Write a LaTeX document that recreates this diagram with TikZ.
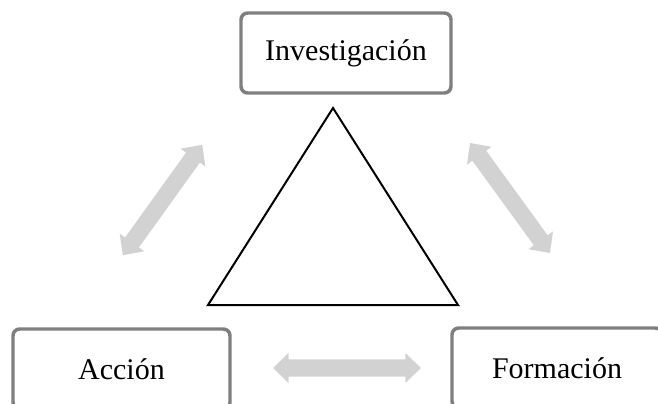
\documentclass[tikz,border=0pt]{standalone}
\usepackage{fontspec}
\setmainfont{Liberation Serif}
\usetikzlibrary{shapes.arrows}
\definecolor{framegray}{HTML}{7F7F7F}
\definecolor{linkgray}{HTML}{D2D2D2}

\tikzset{
  stage/.style={draw=framegray, line width=2.6pt, rounded corners=5pt,
    fill=white, minimum height=60pt, font=\fontsize{22.5}{26}\selectfont},
  link/.style={double arrow, fill=linkgray, draw=none, inner sep=6.2pt,
    double arrow head extend=5pt, double arrow tip angle=88},
}

\begin{document}
\begin{tikzpicture}[x=0.75pt, y=-0.75pt]
    \useasboundingbox (0,0) rectangle (658,404);
    \clip (0,0) rectangle (658,404);
    \node[stage, minimum width=157.5pt] (inv) at (346,53) {Investigación};
    \node[stage, minimum width=162.75pt] (acc) at (121.5,369) {Acción};
    \node[stage, minimum width=157.5pt] (form) at (557,368) {Formación};
    \coordinate (apex) at (333,108);
    \coordinate (left) at (208,305);
    \coordinate (right) at (458,305);
    \draw[line width=1.5pt, line join=miter] (apex) -- (left) -- (right) -- cycle;
    \node[link, minimum height=102pt, rotate=54.3] (ai) at (162.5,200) {};
    \node[link, minimum height=102pt, rotate=-54] (if) at (510,198) {};
    \node[link, minimum height=111pt] (af) at (347,368) {};
  \end{tikzpicture}
\end{document}
